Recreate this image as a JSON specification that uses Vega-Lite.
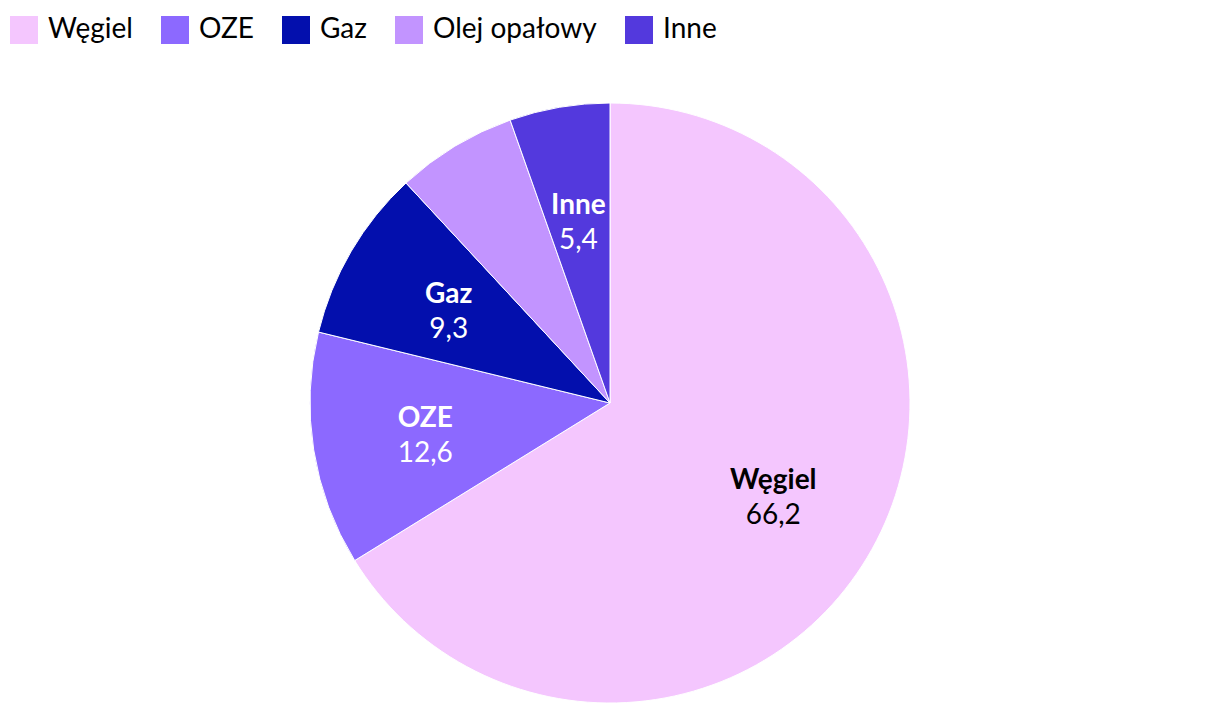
{
  "$schema": "https://vega.github.io/schema/vega-lite/v6.json",
  "autosize": {"type": "none"},
  "width": 1220,
  "height": 622,
  "padding": {"top": 92, "left": 0, "right": 0, "bottom": 0},
  "background": "white",
  "config": {
    "view": {"stroke": null},
    "font": "Lato",
    "locale": {"number": {"decimal": ",", "thousands": " ", "grouping": [3], "currency": ["", " zł"]}}
  },
  "data": {
    "values": [
      {"source": "Węgiel", "value": 66.2, "rank": 1},
      {"source": "OZE", "value": 12.6, "rank": 2},
      {"source": "Gaz", "value": 9.3, "rank": 3},
      {"source": "Olej opałowy", "value": 6.5, "rank": 4},
      {"source": "Inne", "value": 5.4, "rank": 5}
    ]
  },
  "encoding": {
    "theta": {"field": "value", "type": "quantitative", "stack": true},
    "order": {"field": "rank", "type": "quantitative", "sort": "ascending"}
  },
  "layer": [
    {
      "mark": {"type": "arc", "outerRadius": 300, "stroke": "white", "strokeWidth": 1},
      "encoding": {
        "color": {
          "field": "source",
          "type": "nominal",
          "sort": ["Węgiel", "OZE", "Gaz", "Olej opałowy", "Inne"],
          "scale": {
            "domain": ["Węgiel", "OZE", "Gaz", "Olej opałowy", "Inne"],
            "range": ["#F4C6FE", "#8C69FF", "#030FAD", "#C294FF", "#5339DD"]
          },
          "legend": {
            "orient": "none",
            "legendX": 10,
            "legendY": -76,
            "direction": "horizontal",
            "title": null,
            "symbolType": "square",
            "symbolSize": 784,
            "symbolStrokeWidth": 0,
            "symbolOpacity": 1,
            "labelFont": "Lato",
            "labelFontSize": 28,
            "labelColor": "#000000",
            "labelOffset": 10,
            "columnPadding": 28,
            "labelLimit": 400
          }
        }
      }
    },
    {
      "mark": {"type": "text", "radius": 187, "dy": -13, "font": "Lato", "fontSize": 28, "fontWeight": "bold"},
      "encoding": {
        "text": {"field": "source", "type": "nominal"},
        "color": {"condition": {"test": "datum.source === 'Węgiel'", "value": "#000000"}, "value": "#ffffff"},
        "opacity": {"condition": {"test": "datum.source === 'Olej opałowy'", "value": 0}, "value": 1}
      }
    },
    {
      "mark": {"type": "text", "radius": 187, "dy": 22, "font": "Lato", "fontSize": 28},
      "encoding": {
        "text": {"field": "value", "type": "quantitative", "format": ".1f"},
        "color": {"condition": {"test": "datum.source === 'Węgiel'", "value": "#000000"}, "value": "#ffffff"},
        "opacity": {"condition": {"test": "datum.source === 'Olej opałowy'", "value": 0}, "value": 1}
      }
    }
  ]
}
